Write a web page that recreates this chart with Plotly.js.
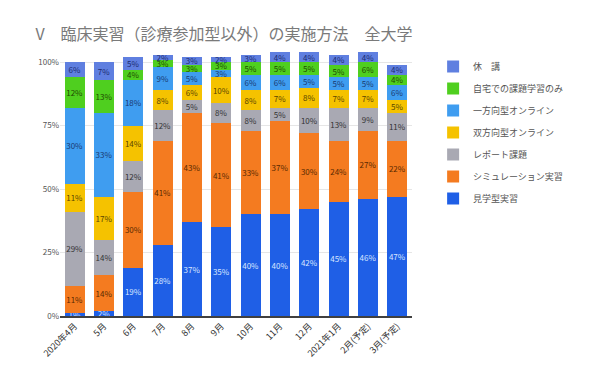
<!DOCTYPE html>
<html>
<head>
<meta charset="utf-8">
<script src="https://cdn.plot.ly/plotly-3.0.1.min.js"></script>
<style>
html,body{margin:0;padding:0;background:#fff;}
#chart{width:590px;height:365px;}
</style>
</head>
<body>
<div id="chart"></div>
<script>
const categories = ["2020年4月","5月","6月","7月","8月","9月","10月","11月","12月","2021年1月","2月(予定)","3月(予定)"];
const seriesNames = ["見学型実習","シミュレーション実習","レポート課題","双方向型オンライン","一方向型オンライン","自宅での課題学習のみ","休　講"];
const kengaku   = [1, 2, 19, 28, 37, 35, 40, 40, 42, 45, 46, 47];
const simulation= [11, 14, 30, 41, 43, 41, 33, 37, 30, 24, 27, 22];
const report    = [29, 14, 12, 12, 5, 8, 8, 5, 10, 13, 9, 11];
const sohoko    = [11, 17, 14, 8, 6, 10, 8, 7, 8, 7, 7, 5];
const ichihoko  = [30, 33, 18, 9, 5, 3, 6, 6, 5, 5, 5, 6];
const jitaku    = [12, 13, 4, 3, 3, 3, 5, 5, 5, 5, 6, 4];
const kyuko     = [6, 7, 5, 2, 3, 2, 3, 4, 4, 4, 4, 4];
const seriesValues = [kengaku, simulation, report, sohoko, ichihoko, jitaku, kyuko];
const colors = ["#1f5fe6","#f47b20","#a9a9b3","#f5c200","#3f9df0","#4fcf1f","#5f7fe0"];
const textColors = ["#d8e6ff","#5a2a00","#333333","#5a4500","#1a3a70","#1f4a00","#1a2a70"];

const traces = seriesNames.map((name, i) => ({
  type: "bar",
  name: name,
  x: categories,
  y: seriesValues[i],
  marker: {color: colors[i]},
  text: seriesValues[i].map(v => v + "%"),
  textposition: "inside",
  insidetextanchor: "middle",
  textangle: 0,
  insidetextfont: {family: "Noto Sans CJK JP, sans-serif", size: 8, color: textColors[i]},
  hoverinfo: "skip",
  legendgroup: "g" + i,
  legendrank: 100 - i
}));

const layout = {
  width: 590, height: 365,
  margin: {l: 60, r: 178, t: 52, b: 49},
  paper_bgcolor: "#ffffff",
  plot_bgcolor: "#ffffff",
  barmode: "stack",
  bargap: 0.32,
  font: {family: "Noto Sans CJK JP, sans-serif", color: "#444", size: 10},
  title: {
    text: "V　臨床実習（診療参加型以外）の実施方法　全大学",
    x: 0.06, xanchor: "left", y: 0.905, yanchor: "middle",
    font: {family: "Noto Sans CJK JP, sans-serif", size: 16, color: "#7a7a7a"}
  },
  uniformtext: {mode: "show", minsize: 8},
  xaxis: {
    type: "category",
    tickangle: -45,
    tickfont: {size: 9, color: "#333"},
    showline: true, linecolor: "#404040", linewidth: 1.5,
    ticks: "", showgrid: false
  },
  yaxis: {
    range: [0, 104],
    tickvals: [0, 25, 50, 75, 100],
    ticktext: ["0%", "25%", "50%", "75%", "100%"],
    tickfont: {size: 8, color: "#555"},
    showgrid: true, gridcolor: "#e6e6e6",
    zeroline: false, showline: false
  },
  legend: {
    x: 1.06, xanchor: "left", y: 1.0, yanchor: "top",
    traceorder: "grouped",
    tracegroupgap: 3,
    font: {size: 9, color: "#555"},
    itemwidth: 30
  },
  showlegend: true
};

Plotly.newPlot("chart", traces, layout, {displayModeBar: false, staticPlot: true});
</script>
</body>
</html>
